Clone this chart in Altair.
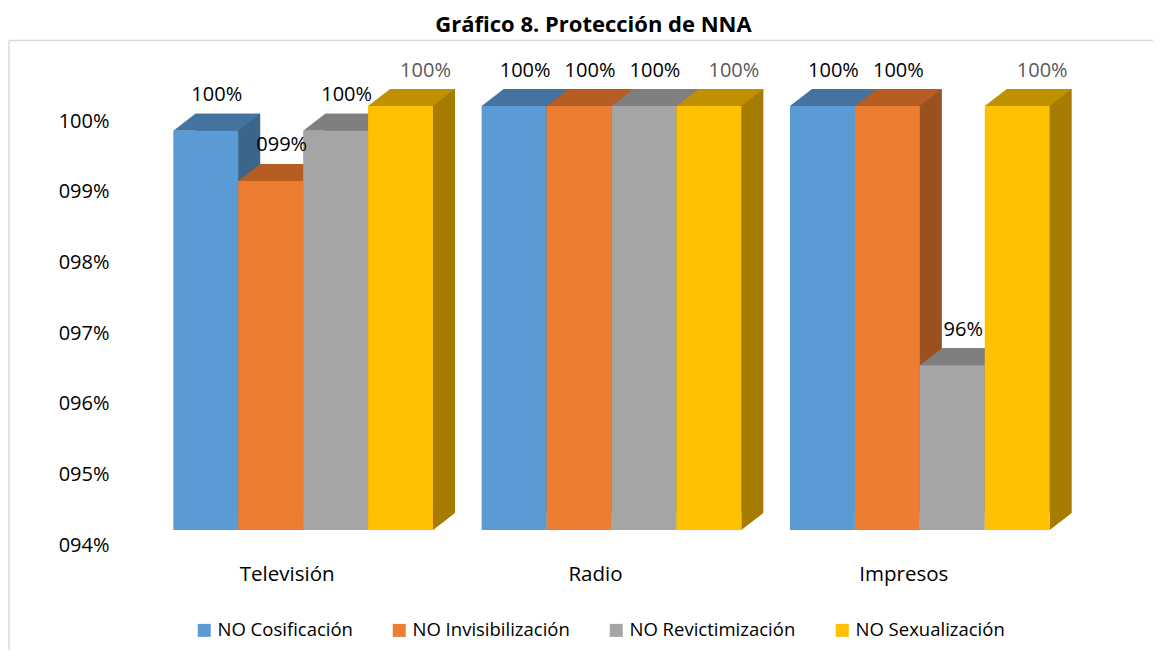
import altair as alt
import pandas as pd

# ---------------- data ----------------
categories = ["Televisión", "Radio", "Impresos"]
series = ["NO Cosificación", "NO Invisibilización", "NO Revictimización", "NO Sexualización"]
values_tv = [99.65, 98.94, 99.65, 100.0]
values_radio = [100.0, 100.0, 100.0, 100.0]
values_impresos = [100.0, 100.0, 96.33, 100.0]
labels_tv = ["100%", "099%", "100%", "100%"]
labels_radio = ["100%", "100%", "100%", "100%"]
labels_impresos = ["100%", "100%", "96%", "100%"]
y_ticks = [94, 95, 96, 97, 98, 99, 100]
y_tick_labels = ["094%", "095%", "096%", "097%", "098%", "099%", "100%"]
title_text = "Gráfico 8. Protección de NNA"

front_colors = ["#5B9BD5", "#ED7D31", "#A5A5A5", "#FFC000"]
top_colors = ["#44739F", "#B55D23", "#7F7F7F", "#BF9000"]
side_colors = ["#3B6689", "#9A511F", "#6D6D6D", "#A57C00"]

all_values = [values_tv, values_radio, values_impresos]
all_labels = [labels_tv, labels_radio, labels_impresos]
rows = []
for ci, cat in enumerate(categories):
    for si, s in enumerate(series):
        rows.append({"cat": cat, "series": s, "value": all_values[ci][si],
                     "label": all_labels[ci][si]})
df = pd.DataFrame(rows)

# ---------------- geometry / style ----------------
W, H = 983, 424
PAD = {"left": 112, "top": 98, "right": 50, "bottom": 120}
P_IN, P_OUT = 0.1578, 0.1729
step = W / (3 - P_IN + 2 * P_OUT)
bw = step * (1 - P_IN)
bar_w = bw / 4
DX, DY = 22, 17
FONT = "Open Sans"
YMIN, YMAX = 94, 100

hw = bar_w / 2
top_path = f"M{-hw:.2f},0 L{hw:.2f},0 L{hw + DX:.2f},{-DY} L{-hw + DX:.2f},{-DY} Z"
bottom_tri = f"M{hw:.2f},0 L{hw + DX:.2f},{-DY} L{hw:.2f},{-DY} Z"

label_expr = "''"
for v, l in zip(y_ticks, y_tick_labels):
    label_expr = f"datum.value == {v} ? '{l}' : ({label_expr})"

x_axis = alt.Axis(title=None, ticks=False, tickSize=0, domain=False, grid=False,
                  labelFont=FONT, labelFontSize=20.5, labelColor="#000000",
                  labelPadding=44, labelBaseline="middle", labelOffset=-16, labelAngle=0)
y_axis = alt.Axis(title=None, ticks=False, tickSize=0, domain=False, grid=False,
                  values=y_ticks, labelExpr=label_expr, labelFont=FONT,
                  labelFontSize=20, labelColor="#000000", labelPadding=11,
                  labelOffset=15)

X = alt.X("cat:N", sort=categories,
          scale=alt.Scale(domain=categories, paddingInner=P_IN, paddingOuter=P_OUT), axis=x_axis)
Y = alt.Y("value:Q", scale=alt.Scale(domain=[YMIN, YMAX], nice=False, zero=False), axis=y_axis)
XO = alt.XOffset("series:N", sort=series, scale=alt.Scale(domain=series))


def col(rng, legend=None):
    return alt.Color("series:N", sort=series, scale=alt.Scale(domain=series, range=rng),
                     legend=legend)


base = alt.Chart(df)

# back (side) faces: shifted rectangles
backs = base.mark_bar(yOffset=-DY, y2Offset=-DY, strokeWidth=0).encode(
    x=X,
    xOffset=alt.XOffset("series:N", sort=series,
                        scale=alt.Scale(domain=series, range=[DX, bw + DX])),
    y=Y, y2=alt.datum(YMIN),
    color=col(side_colors),
)

# bottom triangles of side faces
bottoms = base.transform_calculate(base_v=str(YMIN)).mark_point(
    shape=bottom_tri, size=4, filled=True, opacity=1, strokeWidth=0).encode(
    x=X, xOffset=XO,
    y=alt.Y("base_v:Q", scale=alt.Scale(domain=[YMIN, YMAX], nice=False, zero=False), axis=y_axis),
    color=col(side_colors),
)

# top faces
tops = base.mark_point(shape=top_path, size=4, filled=True, opacity=1, strokeWidth=0).encode(
    x=X, xOffset=XO, y=Y, color=col(top_colors),
)

legend = alt.Legend(orient="none", legendX=75, legendY=515, direction="horizontal",
                    columns=4, title=None, symbolType="square", symbolSize=169,
                    symbolStrokeWidth=0, labelFont=FONT, labelFontSize=18.5,
                    labelColor="#000000", labelOffset=4, columnPadding=37, padding=0,
                    labelLimit=400)

fronts = base.mark_bar(strokeWidth=0).encode(
    x=X, xOffset=XO, y=Y, y2=alt.datum(YMIN), color=col(front_colors, legend),
)

labels_main = base.transform_filter(alt.datum.series != series[3]).mark_text(
    font=FONT, fontSize=20, color="#000000", dx=11, dy=-35.5, baseline="middle").encode(
    x=X, xOffset=XO, y=Y, text="label:N")
labels_last = base.transform_filter(alt.datum.series == series[3]).mark_text(
    font=FONT, fontSize=20, color="#595959", dx=25, dy=-35.5, baseline="middle").encode(
    x=X, xOffset=XO, y=Y, text="label:N")

one = pd.DataFrame({"t": [title_text]})
title = alt.Chart(one).mark_text(font=FONT, fontSize=22, fontWeight="bold", color="#000000",
                                 baseline="alphabetic", align="center").encode(
    x=alt.value(473.5), y=alt.value(-73.7), text="t:N")

frame_top = alt.Chart(one).mark_rule(color="#D9D9D9", strokeWidth=1.5).encode(
    x=alt.value(-111), x2=alt.value(W + PAD["right"]), y=alt.value(-65.5))
frame_left = alt.Chart(one).mark_rule(color="#D9D9D9", strokeWidth=1.5).encode(
    x=alt.value(-111), y=alt.value(-65.5), y2=alt.value(H + PAD["bottom"]))

chart = alt.layer(
    frame_top, frame_left, backs, bottoms, tops, fronts, labels_main, labels_last, title
).resolve_scale(
    xOffset="independent", color="independent"
).properties(
    width=W, height=H, padding=PAD, autosize="none", background="#FFFFFF"
).configure_view(stroke=None)

chart.save("out.html", embed_options={"renderer": "svg", "actions": False})
